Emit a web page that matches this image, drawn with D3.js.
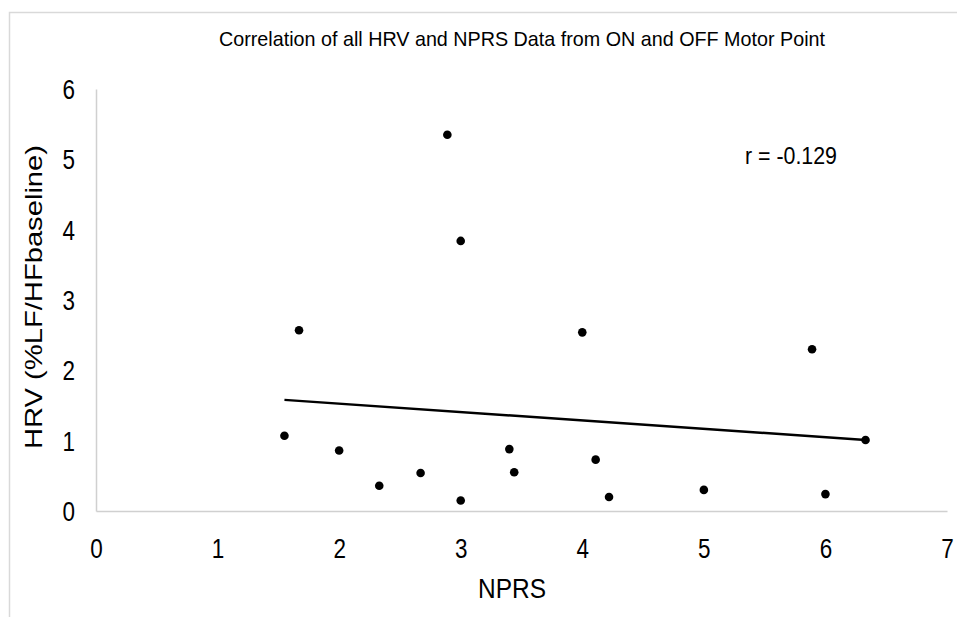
<!DOCTYPE html>
<html>
<head>
<meta charset="utf-8">
<script src="https://cdn.jsdelivr.net/npm/d3@7"></script>
<style>
  html, body { margin: 0; padding: 0; background: #fff; }
  svg { display: block; }
  text { font-family: "Liberation Sans", Arial, sans-serif; fill: #000; }
</style>
</head>
<body>
<svg id="chart" width="957" height="617"></svg>
<script>
// ---- Data ----
const nprs = [1.55, 1.67, 2.00, 2.33, 2.67, 2.89, 3.00, 3.00, 3.40, 3.44, 4.00, 4.11, 4.22, 5.00, 5.89, 6.00, 6.33];
const hrv  = [1.07, 2.57, 0.86, 0.36, 0.54, 5.35, 3.84, 0.15, 0.88, 0.55, 2.54, 0.73, 0.20, 0.30, 2.30, 0.24, 1.01];
const trendX = [1.55, 6.33];
const trendY = [1.58, 1.01];
const xTicks = [0, 1, 2, 3, 4, 5, 6, 7];
const yTicks = [0, 1, 2, 3, 4, 5, 6];
const titleText = "Correlation of all HRV and NPRS Data from ON and OFF Motor Point";
const xTitle = "NPRS";
const yTitle = "HRV (%LF/HFbaseline)";
const rLabel = "r = -0.129";

// ---- Layout ----
const svg = d3.select("#chart");
const W = 957, H = 617;
const plot = { left: 96, right: 947, top: 89, bottom: 511 };

const x = d3.scaleLinear().domain([0, 7]).range([plot.left, plot.right]);
const y = d3.scaleLinear().domain([0, 6]).range([plot.bottom, plot.top]);

// outer chart border
svg.append("rect")
  .attr("x", 9.5).attr("y", 12.5)
  .attr("width", W + 10).attr("height", H + 10)
  .attr("fill", "none").attr("stroke", "#d9d9d9").attr("stroke-width", 1.5);

// axes (no tick marks, light grey lines)
const xAxis = svg.append("g")
  .attr("transform", `translate(0,${plot.bottom})`)
  .call(d3.axisBottom(x).tickValues(xTicks).tickSize(0).tickPadding(26).tickFormat(d3.format("d")));
const yAxis = svg.append("g")
  .attr("transform", `translate(${plot.left},0)`)
  .call(d3.axisLeft(y).tickValues(yTicks).tickSize(0).tickPadding(21).tickFormat(d3.format("d")));

[xAxis, yAxis].forEach(g => {
  g.select(".domain").attr("stroke", "#d0d0d0").attr("stroke-width", 1.5);
  g.selectAll("text").style("font-size", "27px").attr("fill", "#000")
    .attr("textLength", 12.5).attr("lengthAdjust", "spacingAndGlyphs");
});
xAxis.selectAll("text").attr("dy", "0.71em").attr("y", 28);
yAxis.selectAll("text").attr("dy", "0.35em");

// trend line
svg.append("path")
  .datum(trendX.map((d, i) => [d, trendY[i]]))
  .attr("d", d3.line().x(d => x(d[0])).y(d => y(d[1])))
  .attr("fill", "none").attr("stroke", "#000").attr("stroke-width", 2.5);

// points
svg.append("g").selectAll("circle")
  .data(nprs.map((d, i) => ({ x: d, y: hrv[i] })))
  .join("circle")
  .attr("cx", d => x(d.x)).attr("cy", d => y(d.y))
  .attr("r", 4.3).attr("fill", "#000");

// title
svg.append("text")
  .attr("x", 522).attr("y", 46)
  .attr("text-anchor", "middle")
  .attr("textLength", 606).attr("lengthAdjust", "spacingAndGlyphs")
  .style("font-size", "21px")
  .text(titleText);

// r label
svg.append("text")
  .attr("x", 745).attr("y", 164)
  .attr("textLength", 92).attr("lengthAdjust", "spacingAndGlyphs")
  .style("font-size", "23px")
  .text(rLabel);

// x axis title
svg.append("text")
  .attr("x", 512).attr("y", 598)
  .attr("text-anchor", "middle")
  .attr("textLength", 68).attr("lengthAdjust", "spacingAndGlyphs")
  .style("font-size", "27px")
  .text(xTitle);

// y axis title
svg.append("text")
  .attr("transform", `translate(42,297) rotate(-90)`)
  .attr("text-anchor", "middle")
  .attr("textLength", 304).attr("lengthAdjust", "spacingAndGlyphs")
  .style("font-size", "24px")
  .text(yTitle);
</script>
</body>
</html>
